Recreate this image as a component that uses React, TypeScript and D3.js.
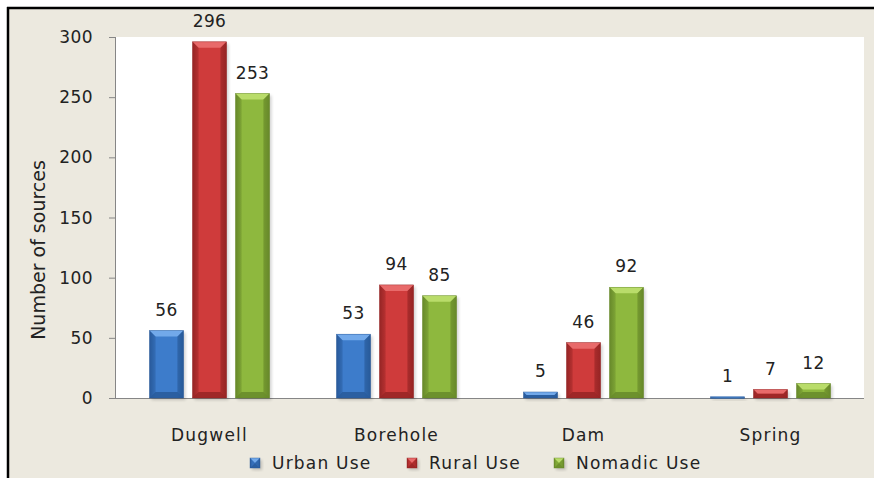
import React from 'react';
import * as d3 from 'd3';

const categories = ['Dugwell', 'Borehole', 'Dam', 'Spring'];
const seriesNames = ['Urban Use', 'Rural Use', 'Nomadic Use'];
const urbanUse = [56, 53, 5, 1];
const ruralUse = [296, 94, 46, 7];
const nomadicUse = [253, 85, 92, 12];
const yTicks = [0, 50, 100, 150, 200, 250, 300];

const W = 874;
const H = 478;
const plot = { left: 116, right: 864, top: 37, bottom: 398 };

// base / light / dark per series
const palette = [
    { base: '#3d7ccb', light: '#72a9ea', dark: '#285a9a' },
    { base: '#cf3b3b', light: '#e86a6a', dark: '#962424' },
    { base: '#8eb83e', light: '#b9dc6a', dark: '#67892a' }
];

const FONT = 'DejaVu Sans, Verdana, sans-serif';

function BevelBar({ x, y, w, h, i }) {
    const c = palette[i];
    const b = Math.min(6, h / 2, w / 2);
    return (
        <g>
            <rect x={x + 2} y={y + 2} width={w} height={h} fill="#000" opacity={0.18} filter="url(#shadow)" />
            <rect x={x} y={y} width={w} height={h} fill={`url(#grad${i})`} />
            <polygon points={`${x},${y} ${x + w},${y} ${x + w - b},${y + b} ${x + b},${y + b}`} fill={c.light} />
            <polygon points={`${x},${y + h} ${x + w},${y + h} ${x + w - b},${y + h - b} ${x + b},${y + h - b}`} fill={c.dark} opacity={0.85} />
            <polygon points={`${x},${y} ${x + b},${y + b} ${x + b},${y + h - b} ${x},${y + h}`} fill={c.dark} opacity={0.35} />
            <polygon points={`${x + w},${y} ${x + w - b},${y + b} ${x + w - b},${y + h - b} ${x + w},${y + h}`} fill={c.dark} opacity={0.6} />
            <rect x={x} y={y} width={w} height={h} fill="none" stroke={c.dark} strokeWidth={0.6} opacity={0.7} />
        </g>
    );
}

export default function App() {
    const values = [urbanUse, ruralUse, nomadicUse];

    const x = d3.scaleBand().domain(categories).range([plot.left, plot.right]).padding(0);
    const inner = d3.scaleBand().domain(seriesNames).range([0, 120]).paddingInner(9 / 43).paddingOuter(0);
    const y = d3.scaleLinear().domain([0, 300]).range([plot.bottom, plot.top]);
    const offset = (x.bandwidth() - 120) / 2;

    const legendX = [250, 407, 554];

    return (
        <svg width={W} height={H} style={{ position: 'absolute', left: 0, top: 0, display: 'block' }} fontFamily={FONT}>
            <defs>
                <filter id="shadow" x="-20%" y="-20%" width="140%" height="140%">
                    <feGaussianBlur stdDeviation="1.5" />
                </filter>
                {palette.map((c, i) => (
                    <linearGradient key={i} id={`grad${i}`} x1="0" x2="1" y1="0" y2="0">
                        <stop offset="0" stopColor={c.dark} />
                        <stop offset="0.2" stopColor={c.base} />
                        <stop offset="0.8" stopColor={c.base} />
                        <stop offset="1" stopColor={c.dark} />
                    </linearGradient>
                ))}
            </defs>
            <rect x={0} y={0} width={W} height={H} fill="#fff" />
            <rect x={8} y={8} width={W - 8} height={H - 8} fill="#ece9df" />
            <line x1={7} x2={W} y1={8} y2={8} stroke="#000" strokeWidth={2.5} />
            <line x1={8} x2={8} y1={7} y2={H} stroke="#000" strokeWidth={2.5} />
            <rect x={plot.left} y={plot.top} width={plot.right - plot.left} height={plot.bottom - plot.top} fill="#fff" />

            {/* y axis */}
            <line x1={plot.left - 0.5} x2={plot.left - 0.5} y1={plot.top} y2={plot.bottom} stroke="#868686" />
            {yTicks.map((t) => (
                <g key={t}>
                    <line x1={plot.left - 7} x2={plot.left} y1={y(t) + 0.5} y2={y(t) + 0.5} stroke="#868686" />
                    <text x={plot.left - 23} y={y(t)} dy="0.36em" textAnchor="end" fontSize={17} letterSpacing={0.4} fill="#222">{t}</text>
                </g>
            ))}
            <line x1={plot.left - 7} x2={plot.right} y1={plot.bottom + 0.5} y2={plot.bottom + 0.5} stroke="#868686" />
            <text transform={`translate(45, 250) rotate(-90)`} textAnchor="middle" fontSize={19} fill="#222">
                Number of sources
            </text>

            {/* bars */}
            {categories.map((cat, ci) => (
                <g key={cat}>
                    {seriesNames.map((s, si) => {
                        const v = values[si][ci];
                        const bx = x(cat) + offset + inner(s);
                        const by = y(v);
                        const bh = plot.bottom - by;
                        return (
                            <g key={s}>
                                <BevelBar x={bx} y={by} w={inner.bandwidth()} h={Math.max(bh, 1.5)} i={si} />
                                <text x={bx + inner.bandwidth() / 2} y={by - 15} textAnchor="middle" fontSize={17} letterSpacing={0.4} fill="#222">{v}</text>
                            </g>
                        );
                    })}
                    <text x={x(cat) + x.bandwidth() / 2} y={441} textAnchor="middle" fontSize={17} letterSpacing={1.2} fill="#222">{cat}</text>
                </g>
            ))}

            {/* legend */}
            {seriesNames.map((s, i) => (
                <g key={s}>
                    <BevelBar x={legendX[i]} y={458} w={10} h={10} i={i} />
                    <text x={legendX[i] + 22} y={469} fontSize={17} letterSpacing={1.2} fill="#222">{s}</text>
                </g>
            ))}
        </svg>
    );
}
